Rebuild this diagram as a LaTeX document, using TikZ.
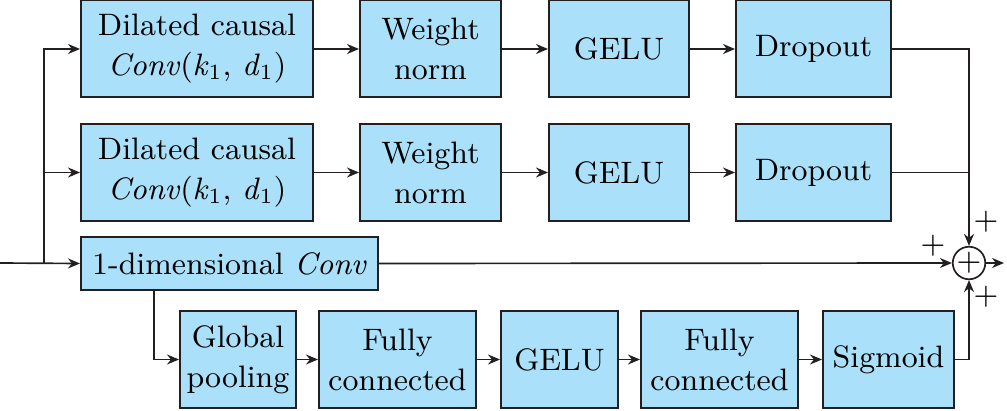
\documentclass[tikz,border=0pt]{standalone}
\usepackage{xcolor}
\usepackage{tikz}
\usetikzlibrary{arrows.meta,positioning}

\definecolor{boxblue}{RGB}{170,224,250}
\definecolor{inkgray}{RGB}{35,31,32}

\begin{document}
\begin{tikzpicture}[
    x=0.3pt, y=-0.3pt,
    font=\fontsize{9.3pt}{12pt}\selectfont,
    blk/.style={draw=inkgray, fill=boxblue, line width=0.6pt, align=center, inner sep=0pt, minimum height=29.1pt},
    line/.style={-{Stealth[length=3.6pt,width=3pt]}, line width=0.5pt, draw=inkgray},
    wire/.style={line width=0.5pt, draw=inkgray}
]
\useasboundingbox (0,0) rectangle (1007,410);
% first branch
\node[blk, minimum width=69.6pt] (dc1) at (197,49) {Dilated causal\\\textit{Conv}(\textit{k}\textsubscript{1}, \textit{d}\textsubscript{1})};
\node[blk, minimum width=42.3pt, right=13.5pt of dc1] (wn1) {Weight\\norm};
\node[blk, minimum width=42pt, right=13.8pt of wn1] (ge1) {GELU};
\node[blk, minimum width=46.5pt, right=13.5pt of ge1] (do1) {Dropout};
% second branch
\node[blk, minimum width=69.6pt] (dc2) at (197,172.5) {Dilated causal\\\textit{Conv}(\textit{k}\textsubscript{1}, \textit{d}\textsubscript{1})};
\node[blk, minimum width=42.3pt, right=13.5pt of dc2] (wn2) {Weight\\norm};
\node[blk, minimum width=42pt, right=13.8pt of wn2] (ge2) {GELU};
\node[blk, minimum width=46.5pt, right=13.5pt of ge2] (do2) {Dropout};
% residual and attention branch
\node[blk, minimum width=89.1pt, minimum height=15.9pt] (conv) at (229.5,263.5) {1-dimensional \textit{Conv}};
\node[blk, minimum width=34.8pt] (gp) at (238,359.5) {Global\\pooling};
\node[blk, minimum width=47.1pt, right=6.3pt of gp] (fc1) {Fully\\connected};
\node[blk, minimum width=35.1pt, right=6.9pt of fc1] (ge3) {GELU};
\node[blk, minimum width=47.1pt, right=6.3pt of ge3] (fc2) {Fully\\connected};
\node[blk, minimum width=39.3pt, right=6.9pt of fc2] (sig) {Sigmoid};
% adder
\node[draw=inkgray, line width=0.5pt, circle, inner sep=0pt, minimum size=8.4pt] (sum) at (969,263) {+};
\node (p1) at (986,222) {+};
\node (p2) at (933,246) {+};
\node (p3) at (986,297) {+};
\coordinate (in) at (0,263);
\coordinate (fork) at (44,263);
\coordinate (out) at (1004,263);

\draw[line] (in) -- (conv.west);
\draw[line] (fork) |- (dc1.west);
\draw[line] (fork) |- (dc2.west);
\draw[line] (dc1) -- (wn1);
\draw[line] (wn1) -- (ge1);
\draw[line] (ge1) -- (do1);
\draw[line] (dc2) -- (wn2);
\draw[line] (wn2) -- (ge2);
\draw[line] (ge2) -- (do2);
\draw[line] (do1.east) -| (sum.north);
\draw[wire] (do2.east) -- (do2.east -| sum.north);
\draw[line] (conv.east) -- (sum.west);
\draw[line] (conv.south west) ++(74,0) |- (gp.west);
\draw[line] (gp) -- (fc1);
\draw[line] (fc1) -- (ge3);
\draw[line] (ge3) -- (fc2);
\draw[line] (fc2) -- (sig);
\draw[line] (sig.east) -| (sum.south);
\draw[line] (sum.east) -- (out);
\end{tikzpicture}
\end{document}
